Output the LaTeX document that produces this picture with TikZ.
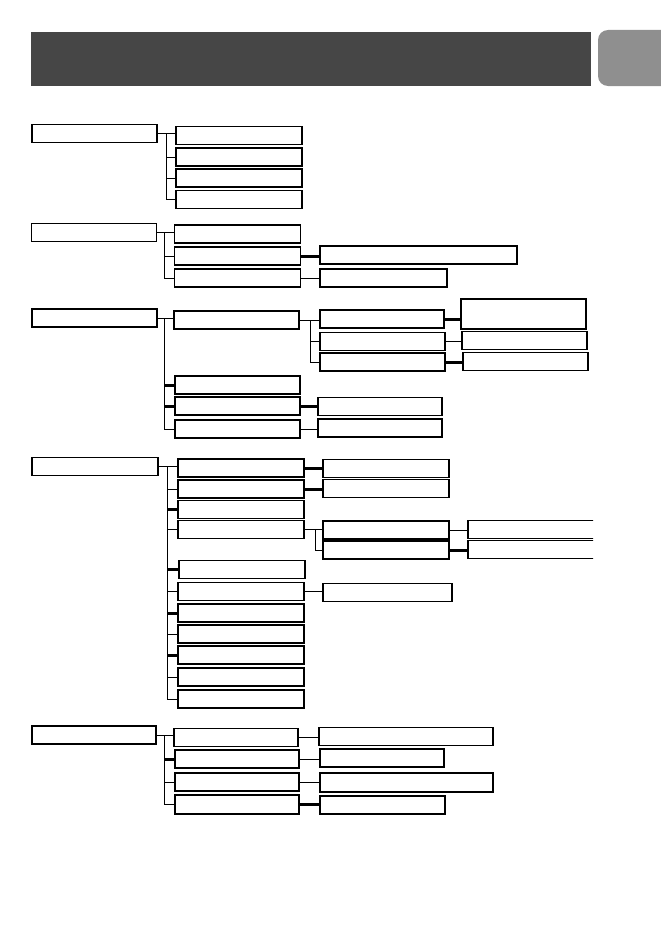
\documentclass[tikz,border=0pt]{standalone}
\usetikzlibrary{positioning}

\definecolor{barGray}{HTML}{464646}
\definecolor{tabGray}{HTML}{8F8F8F}

\tikzset{
  menu/.style={draw, rectangle, line width=1.3pt, minimum width=125pt, minimum height=18pt, inner sep=0pt},
  entry/.style={menu, minimum width=126pt},
  link/.style={line width=1pt},
  boldlink/.style={line width=3pt},
}

\begin{document}
\begin{tikzpicture}[x=1pt, y=-1pt]
    \useasboundingbox (0,0) rectangle (661,934);

    % header bar and tab
    \fill[barGray] (31,32) rectangle (591,86);
    \fill[tabGray, rounded corners=10pt] (598,30) rectangle (690,86);

    % first menu
    \node[menu] (P1) at (94.5,133.5) {};
    \node[entry] (C1_1) at (239,135.5) {};
    \node[entry] (C1_2) at (239,157) {};
    \node[entry] (C1_3) at (239,178) {};
    \node[entry] (C1_4) at (239,199.5) {};

    \coordinate (t1) at (166,133.5);
    \draw[link] (P1.east) -- (C1_1.west |- P1.east);
    \draw[link] (t1) |- (C1_4.west);
    \draw[link] (t1 |- C1_2.west) -- (C1_2.west);
    \draw[link] (t1 |- C1_3.west) -- (C1_3.west);

    % second menu
    \node[menu] (P2) at (94,232.5) {};
    \node[entry] (C2_1) at (237.5,234) {};
    \node[entry] (C2_2) at (237.5,256) {};
    \node[entry] (C2_3) at (237.5,278) {};
    \node[menu, minimum width=197pt] (G2_2) at (418.5,255) {};
    \node[menu, minimum width=127pt] (G2_3) at (383.5,278) {};

    \coordinate (t2) at (164.5,232.5);
    \draw[link] (P2.east) -- (C2_1.west |- P2.east);
    \draw[link] (t2) |- (C2_3.west);
    \draw[link] (t2 |- C2_2.west) -- (C2_2.west);
    \draw[boldlink] (C2_2.east) -- (G2_2.west |- C2_2.east);
    \draw[link] (C2_3.east) -- (G2_3.west |- C2_3.east);

    % third menu
    \node[menu] (P3) at (94.5,318) {};
    \node[menu] (C3_1) at (236.5,320) {};
    \node[menu] (C3_2) at (237.5,385) {};
    \node[menu] (C3_3) at (237.5,406) {};
    \node[menu] (C3_4) at (237.5,429) {};
    \node[menu, minimum width=124pt] (G3_1) at (382,319) {};
    \node[menu] (G3_2) at (382.5,341.5) {};
    \node[menu] (G3_3) at (382.5,362) {};
    \node[menu, line width=2.2pt, minimum height=30pt] (GG3_1) at (523.5,314) {};
    \node[menu] (GG3_2) at (524.5,340.5) {};
    \node[menu] (GG3_3) at (525.5,361.5) {};
    \node[menu, minimum width=124pt] (G3_c3) at (380,406.5) {};
    \node[menu, minimum width=124pt] (G3_c4) at (380,428) {};

    \coordinate (t3) at (164.5,318);
    \coordinate (s3) at (310,320);
    \draw[link] (P3.east) -- (C3_1.west |- P3.east);
    \draw[link] (t3) |- (C3_4.west);
    \draw[boldlink] (t3 |- C3_2.west) -- (C3_2.west);
    \draw[boldlink] (t3 |- C3_3.west) -- (C3_3.west);
    \draw[link] (C3_1.east) -- (G3_1.west |- C3_1.east);
    \draw[link] (s3) |- (G3_3.west);
    \draw[link] (s3 |- G3_2.west) -- (G3_2.west);
    \draw[boldlink] (G3_1.east) -- (GG3_1.west |- G3_1.east);
    \draw[link] (G3_2.east) -- (GG3_2.west |- G3_2.east);
    \draw[boldlink] (G3_3.east) -- (GG3_3.west |- G3_3.east);
    \draw[boldlink] (C3_3.east) -- (G3_c3.west |- C3_3.east);
    \draw[link] (C3_4.east) -- (G3_c4.west |- C3_4.east);

    % fourth menu
    \node[menu, minimum width=126pt] (P4) at (95,466.5) {};
    \node[entry] (C4_1) at (241,468) {};
    \node[entry] (C4_2) at (241,489) {};
    \node[entry] (C4_3) at (241,509.5) {};
    \node[entry] (C4_4) at (241,529.5) {};
    \node[entry] (C4_5) at (242,569.5) {};
    \node[entry] (C4_6) at (241,591.5) {};
    \node[entry] (C4_7) at (241,613) {};
    \node[entry] (C4_8) at (241,634) {};
    \node[entry] (C4_9) at (241,655) {};
    \node[entry] (C4_10) at (241,677) {};
    \node[entry] (C4_11) at (241,699) {};
    \node[entry] (G4_1) at (386,468.5) {};
    \node[entry] (G4_2) at (386,488.5) {};
    \node[entry] (G4_4a) at (386,530) {};
    \node[entry] (G4_4b) at (386,550) {};
    \node[menu, minimum width=129pt] (G4_6) at (387.5,592.5) {};
    \begin{scope}
      \clip (0,0) rectangle (593,934);
      \node[menu, minimum width=152pt] (GG4_a) at (544,529.5) {};
      \node[menu, minimum width=152pt] (GG4_b) at (544,549.5) {};
    \end{scope}

    \coordinate (t4) at (167,466.5);
    \coordinate (s4) at (315.5,529.5);
    \draw[link] (P4.east) -- (C4_1.west |- P4.east);
    \draw[link] (t4) |- (C4_11.west);
    \draw[link] (t4 |- C4_2.west) -- (C4_2.west);
    \draw[boldlink] (t4 |- C4_3.west) -- (C4_3.west);
    \draw[link] (t4 |- C4_4.west) -- (C4_4.west);
    \draw[boldlink] (t4 |- C4_5.west) -- (C4_5.west);
    \draw[link] (t4 |- C4_6.west) -- (C4_6.west);
    \draw[boldlink] (t4 |- C4_7.west) -- (C4_7.west);
    \draw[link] (t4 |- C4_8.west) -- (C4_8.west);
    \draw[boldlink] (t4 |- C4_9.west) -- (C4_9.west);
    \draw[link] (t4 |- C4_10.west) -- (C4_10.west);
    \draw[boldlink] (C4_1.east) -- (G4_1.west |- C4_1.east);
    \draw[boldlink] (C4_2.east) -- (G4_2.west |- C4_2.east);
    \draw[link] (C4_4.east) -- (G4_4a.west |- C4_4.east);
    \draw[link] (s4) |- (G4_4b.west);
    \draw[link] (G4_4a.east) -- (GG4_a.west |- G4_4a.east);
    \draw[boldlink] (G4_4b.east) -- (GG4_b.west |- G4_4b.east);
    \draw[link] (C4_6.east) -- (G4_6.west |- C4_6.east);

    % fifth menu
    \node[menu, minimum width=124pt] (P5) at (94,735) {};
    \node[menu, minimum width=124pt] (C5_1) at (236,737.5) {};
    \node[menu, minimum width=124pt] (C5_2) at (237,759) {};
    \node[menu, minimum width=124pt] (C5_3) at (237,782) {};
    \node[menu, minimum width=124pt, minimum height=19pt] (C5_4) at (237,804.5) {};
    \node[menu, minimum width=174pt] (G5_1) at (406,736.5) {};
    \node[menu, minimum width=124pt] (G5_2) at (382,758) {};
    \node[menu, minimum width=173pt, minimum height=19pt] (G5_3) at (406.5,782.5) {};
    \node[menu] (G5_4) at (382.5,805) {};

    \coordinate (t5) at (164.5,735);
    \draw[link] (P5.east) -- (C5_1.west |- P5.east);
    \draw[link] (t5) |- (C5_4.west);
    \draw[boldlink] (t5 |- C5_2.west) -- (C5_2.west);
    \draw[link] (t5 |- C5_3.west) -- (C5_3.west);
    \draw[link] (C5_1.east) -- (G5_1.west |- C5_1.east);
    \draw[link] (C5_2.east) -- (G5_2.west |- C5_2.east);
    \draw[link] (C5_3.east) -- (G5_3.west |- C5_3.east);
    \draw[boldlink] (C5_4.east) -- (G5_4.west |- C5_4.east);

\end{tikzpicture}
\end{document}
